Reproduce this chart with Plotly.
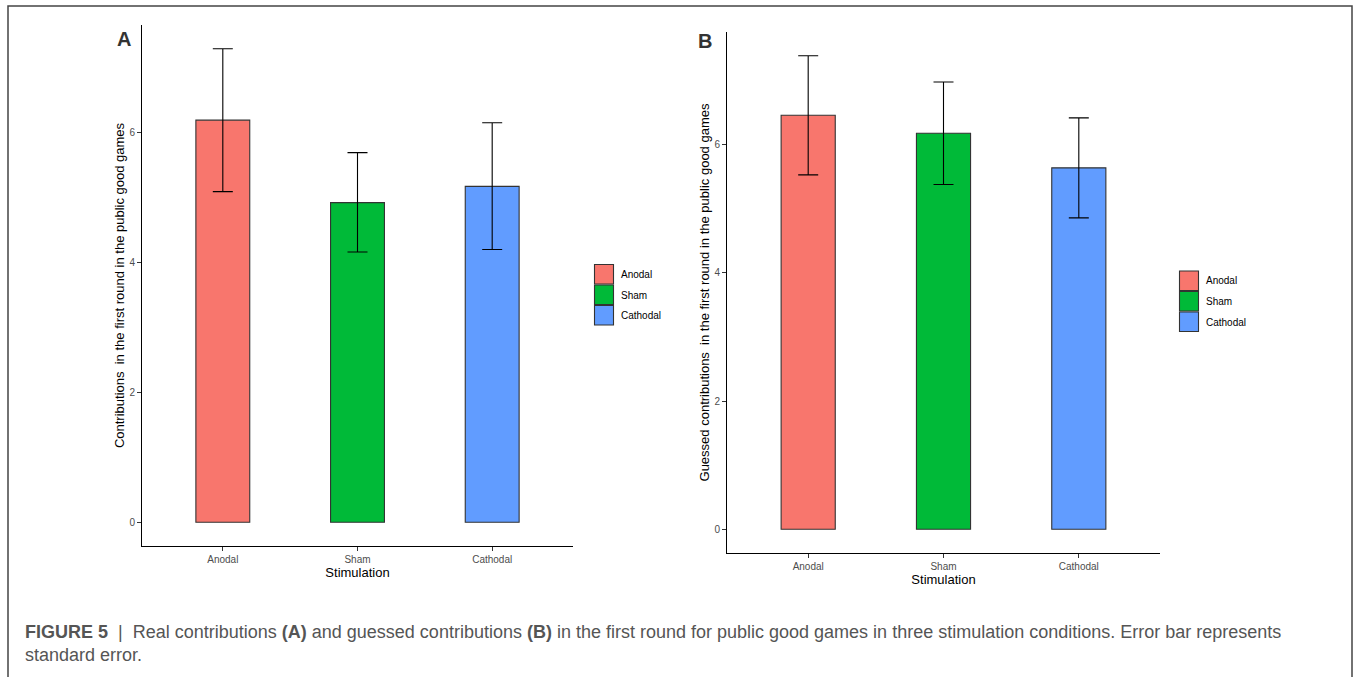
import plotly.graph_objects as go

W, H = 1354, 677

categories = ["Anodal", "Sham", "Cathodal"]
colors = ["#F8766D", "#00BA38", "#619CFF"]

real_mean = [6.19, 4.92, 5.17]
real_upper = [7.29, 5.69, 6.15]
real_lower = [5.09, 4.16, 4.20]

guess_mean = [6.46, 6.18, 5.64]
guess_upper = [7.39, 6.98, 6.42]
guess_lower = [5.53, 5.38, 4.86]

y_ticks = [0, 2, 4, 6]

def px_x(v):
    return v / W

def px_y(v):
    return 1 - v / H

fig = go.Figure()

def add_panel(means, upper, lower, xa, ya):
    fig.add_trace(go.Bar(
        x=categories, y=means,
        marker=dict(color=colors, line=dict(color="#333333", width=1.1)),
        width=0.4,
        error_y=dict(type="data", symmetric=False,
                     array=[u - m for u, m in zip(upper, means)],
                     arrayminus=[m - l for m, l in zip(means, lower)],
                     color="black", thickness=1.1, width=10),
        xaxis=xa, yaxis=ya, showlegend=False, hoverinfo="skip",
    ))

add_panel(real_mean, real_upper, real_lower, "x", "y")
add_panel(guess_mean, guess_upper, guess_lower, "x2", "y2")

ax_common = dict(showline=True, linecolor="black", linewidth=1.1, showgrid=False,
                 zeroline=False, ticks="outside", ticklen=4, tickcolor="#333333",
                 ticklabelstandoff=0,
                 tickfont=dict(family="Liberation Sans, Arial", size=10, color="#4d4d4d"))

def yrange(upper):
    mx = max(upper)
    return [-0.05 * mx, mx * 1.05]

fig.update_layout(
    width=W, height=H, margin=dict(l=0, r=0, t=0, b=0),
    paper_bgcolor="white", plot_bgcolor="white",
    font=dict(family="Liberation Sans, Arial", color="black"),
    xaxis=dict(domain=[px_x(142), px_x(573)], range=[0.4 - 1, 3.6 - 1], anchor="y",
               title=dict(text="Stimulation", font=dict(size=13, color="black"), standoff=2),
               **ax_common),
    yaxis=dict(domain=[px_y(546), px_y(25)], range=yrange(real_upper), anchor="x",
               tickvals=y_ticks,
               title=dict(text="Contributions&nbsp; in the first round in the public good games",
                          font=dict(size=13, color="black"), standoff=1),
               **ax_common),
    xaxis2=dict(domain=[px_x(727), px_x(1160)], range=[0.4 - 1, 3.6 - 1], anchor="y2",
                title=dict(text="Stimulation", font=dict(size=13, color="black"), standoff=2),
                **ax_common),
    yaxis2=dict(domain=[px_y(553), px_y(32)], range=yrange(guess_upper), anchor="x2",
                tickvals=y_ticks,
                title=dict(text="Guessed contributions&nbsp; in the first round in the public good games",
                           font=dict(size=13, color="black"), standoff=1),
                **ax_common),
)

shapes = []
annotations = []

# frame
shapes.append(dict(type="rect", xref="paper", yref="paper",
                   x0=px_x(8), x1=px_x(1352), y0=px_y(690), y1=px_y(6),
                   line=dict(color="#444444", width=1.5), fillcolor="rgba(0,0,0,0)"))

# legends
def add_legend(x0, y0):
    for i, (c, col) in enumerate(zip(categories, colors)):
        top = y0 + i * 20.5
        shapes.append(dict(type="rect", xref="paper", yref="paper",
                           x0=px_x(x0), x1=px_x(x0 + 19), y0=px_y(top + 19.5), y1=px_y(top),
                           line=dict(color="#333333", width=1.1), fillcolor=col))
        annotations.append(dict(xref="paper", yref="paper", x=px_x(x0 + 24), y=px_y(top + 10),
                                text=c, showarrow=False, xanchor="left", yanchor="middle",
                                font=dict(size=10, color="black", family="Liberation Sans, Arial")))

add_legend(594.5, 264.5)
add_legend(1179.5, 271)

# panel labels
annotations.append(dict(xref="paper", yref="paper", x=px_x(115), y=px_y(39), text="<b>A</b>",
                        showarrow=False, xanchor="left", yanchor="middle",
                        font=dict(size=20, color="#333333", family="Liberation Sans, Arial")))
annotations.append(dict(xref="paper", yref="paper", x=px_x(696), y=px_y(41), text="<b>B</b>",
                        showarrow=False, xanchor="left", yanchor="middle",
                        font=dict(size=20, color="#333333", family="Liberation Sans, Arial")))

# caption
annotations.append(dict(xref="paper", yref="paper", x=px_x(23), y=px_y(632),
                        text="<b>FIGURE 5</b> &nbsp;|&nbsp; Real contributions <b>(A)</b> and guessed contributions <b>(B)</b> in the first round for public good games in three stimulation conditions. Error bar represents",
                        showarrow=False, xanchor="left", yanchor="middle",
                        font=dict(size=18, color="#555555", family="Liberation Sans, Arial")))
annotations.append(dict(xref="paper", yref="paper", x=px_x(23), y=px_y(655),
                        text="standard error.",
                        showarrow=False, xanchor="left", yanchor="middle",
                        font=dict(size=18, color="#555555", family="Liberation Sans, Arial")))

fig.update_layout(shapes=shapes, annotations=annotations)

fig.write_html("out.html", config={"displayModeBar": False},
               post_script="document.body.style.margin='0px';document.body.style.overflow='hidden';")
